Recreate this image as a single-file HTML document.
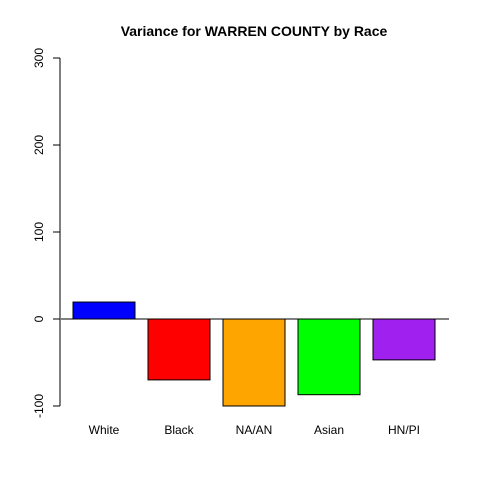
<!DOCTYPE html>
<html><head><meta charset="utf-8"><style>
html,body{margin:0;padding:0;background:#fff;}
svg text{font-family:"Liberation Sans",Arial,sans-serif;}
</style></head><body>
<svg id="chart" width="480" height="480" xmlns="http://www.w3.org/2000/svg">
<text x="254" y="36" text-anchor="middle" font-size="14" font-weight="bold">Variance for WARREN COUNTY by Race</text>
<g id="bars"></g>
<g id="axis"></g>
</svg>
<script>
const categories = ["White","Black","NA/AN","Asian","HN/PI"];
const values = [19.5, -70, -100, -87, -47];
const colors = ["#0000ff","#ff0000","#ffa500","#00ff00","#a020f0"];
const ticks = [-100, 0, 100, 200, 300];

function y(v){ return 319 - v*0.87; }
function x(i){ return 73 + i*75; }
const bw = 62;
const ns = "http://www.w3.org/2000/svg";
const bars = document.getElementById('bars');
const axis = document.getElementById('axis');

values.forEach((v,i)=>{
  const r = document.createElementNS(ns,'rect');
  r.setAttribute('x', x(i));
  r.setAttribute('y', Math.min(y(v), y(0)));
  r.setAttribute('width', bw);
  r.setAttribute('height', Math.abs(y(v)-y(0)));
  r.setAttribute('fill', colors[i]);
  r.setAttribute('stroke', '#000');
  
  
  bars.appendChild(r);
  const t = document.createElementNS(ns,'text');
  t.setAttribute('x', x(i)+bw/2);
  t.setAttribute('y', 434);
  t.setAttribute('text-anchor','middle');
  t.setAttribute('font-size','12');
  t.textContent = categories[i];
  
  
  bars.appendChild(t);
});

const zl = document.createElementNS(ns,'line');
zl.setAttribute('x1',61); zl.setAttribute('x2',449);
zl.setAttribute('y1',y(0)); zl.setAttribute('y2',y(0));
zl.setAttribute('stroke','#000');


bars.appendChild(zl);

const al = document.createElementNS(ns,'line');
al.setAttribute('x1',60); al.setAttribute('x2',60);
al.setAttribute('y1',y(ticks[0])); al.setAttribute('y2',y(ticks[ticks.length-1]));
al.setAttribute('stroke','#000');


axis.appendChild(al);

ticks.forEach(tv=>{
  const l = document.createElementNS(ns,'line');
  l.setAttribute('x1',53); l.setAttribute('x2',60);
  l.setAttribute('y1',y(tv)); l.setAttribute('y2',y(tv));
  l.setAttribute('stroke','#000');
  
  
  axis.appendChild(l);
  const t = document.createElementNS(ns,'text');
  t.setAttribute('transform', 'translate(43,' + y(tv) + ') rotate(-90)');
  t.setAttribute('text-anchor','middle');
  t.setAttribute('font-size','12');
  t.textContent = tv;
  
  
  axis.appendChild(t);
});
</script>
</body></html>
